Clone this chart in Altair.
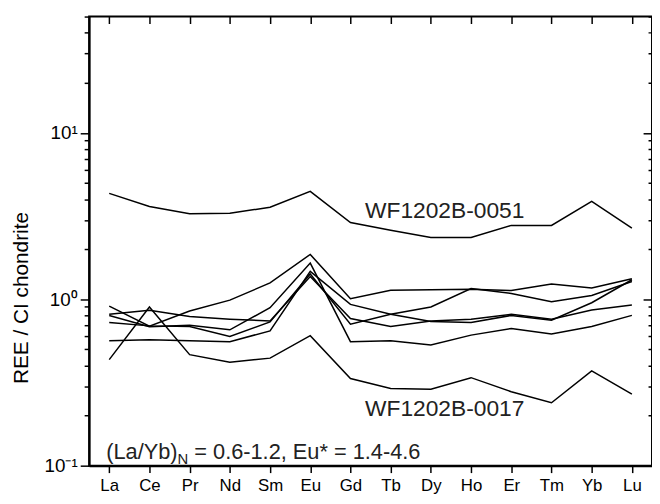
import altair as alt
import pandas as pd

# ---------------- data ----------------
elements = ["La", "Ce", "Pr", "Nd", "Sm", "Eu", "Gd", "Tb", "Dy", "Ho", "Er", "Tm", "Yb", "Lu"]

wf1202b_0051 = [4.33, 3.61, 3.27, 3.29, 3.57, 4.45, 2.89, 2.60, 2.35, 2.35, 2.78, 2.78, 3.87, 2.68]
wf1202b_0017 = [0.434, 0.898, 0.465, 0.419, 0.443, 0.604, 0.334, 0.291, 0.288, 0.338, 0.278, 0.239, 0.371, 0.269]
sample_a = [0.910, 0.690, 0.850, 0.988, 1.254, 1.86, 1.007, 1.133, 1.14, 1.15, 1.128, 1.236, 1.17, 1.33]
sample_b = [0.798, 0.683, 0.699, 0.655, 0.890, 1.65, 0.556, 0.563, 0.531, 0.609, 0.668, 0.618, 0.686, 0.80]
sample_c = [0.725, 0.692, 0.686, 0.598, 0.731, 1.42, 0.708, 0.812, 0.898, 1.16, 1.083, 0.966, 1.053, 1.28]
sample_d = [0.563, 0.571, 0.563, 0.556, 0.646, 1.47, 0.931, 0.812, 0.735, 0.725, 0.80, 0.748, 0.953, 1.31]
sample_f = [0.812, 0.858, 0.787, 0.759, 0.741, 1.37, 0.766, 0.686, 0.741, 0.759, 0.812, 0.759, 0.862, 0.923]

sample_names = ["WF1202B-0051", "WF1202B-0017", "S-A", "S-B", "S-C", "S-D", "S-F"]
sample_values = [wf1202b_0051, wf1202b_0017, sample_a, sample_b, sample_c, sample_d, sample_f]

y_tick_values = [round(k * 0.1, 1) for k in range(1, 10)] + list(range(1, 10)) + [10, 20, 30, 40, 50]
y_major_labels = {0.1: "10⁻¹", 1: "10⁰", 10: "10¹"}

label_top = "WF1202B-0051"
label_bottom = "WF1202B-0017"
note_main = "(La/Yb)"
note_sub = "N"
note_rest = "= 0.6-1.2, Eu* = 1.4-4.6"

rows = []
for name, vals in zip(sample_names, sample_values):
    for i, (el, v) in enumerate(zip(elements, vals)):
        rows.append({"sample": name, "elem": el, "order": i, "value": v})
df = pd.DataFrame(rows)

ann_df = pd.DataFrame([
    {"elem": "Dy", "value": 3.1, "text": label_top},
    {"elem": "Dy", "value": 0.198, "text": label_bottom},
])
note_df = pd.DataFrame([{"elem": "La", "value": 0.109}])

# ---------------- styling ----------------
FONT = "Liberation Sans"
major_test = "datum.value == 0.1 || datum.value == 1 || datum.value == 10"
label_expr = " : ".join(
    f"datum.value == {k} ? '{v}'" for k, v in y_major_labels.items()
) + " : ''"

x_scale = alt.Scale(type="point", domain=elements, padding=0.5)
y_scale = alt.Scale(type="log", domain=[0.1, 50], nice=False)

x_bottom = alt.Axis(
    orient="bottom", title=None, labelAngle=0, labelFont=FONT, labelFontSize=17,
    labelColor="black", labelPadding=5, tickSize=7, tickWidth=1.5, tickColor="black",
    domain=True, domainColor="black", domainWidth=2, grid=False,
)
y_left = alt.Axis(
    orient="left", values=y_tick_values, labelExpr=label_expr, labelFont=FONT,
    labelFontSize=19, labelColor="black", labelPadding=3,
    tickSize={"condition": {"test": major_test, "value": 9}, "value": 5},
    tickWidth=1.5, tickColor="black", domain=True, domainColor="black",
    domainWidth=2, grid=False,
    title="REE / CI chondrite", titleFont=FONT, titleFontSize=21,
    titleFontWeight="normal", titleColor="black", titleX=-68, titleY=284,
    titleAngle=-90, titleAlign="center", titleBaseline="middle",
)
x_top = alt.Axis(
    orient="top", title=None, labels=False, domain=False, offset=-7, tickSize=7,
    tickWidth=1.5, tickColor="black", grid=False,
)
y_right = alt.Axis(
    orient="right", title=None, labels=False, domain=False, offset=-9, tickSize=9,
    values=y_tick_values, tickWidth=1.5, tickColor="black", grid=False,
    tickDash={"condition": {"test": major_test, "value": [9, 0]}, "value": [0, 5, 4, 20]},
)

lines = alt.Chart(df).mark_line(color="black", strokeWidth=1.5).encode(
    x=alt.X("elem:N", scale=x_scale, axis=x_bottom, sort=elements),
    y=alt.Y("value:Q", scale=y_scale, axis=y_left),
    detail="sample:N",
    order="order:Q",
)

ann = alt.Chart(ann_df).mark_text(
    font=FONT, fontSize=23, color="#222222", align="center", baseline="alphabetic", dx=14,
).encode(
    x=alt.X("elem:N", scale=x_scale, axis=x_top, sort=elements),
    y=alt.Y("value:Q", scale=y_scale, axis=y_right),
    text="text:N",
)

base_note = alt.Chart(note_df).encode(
    x=alt.X("elem:N", scale=x_scale, axis=None, sort=elements),
    y=alt.Y("value:Q", scale=y_scale, axis=None),
)
n1 = base_note.mark_text(font=FONT, fontSize=22, color="#222222", align="left",
                         baseline="alphabetic", dx=-3, text=note_main)
n2 = base_note.mark_text(font=FONT, fontSize=15, color="#222222", align="left",
                         baseline="alphabetic", dx=69, dy=5, text=note_sub)
n3 = base_note.mark_text(font=FONT, fontSize=22, color="#222222", align="left",
                         baseline="alphabetic", dx=86, text=note_rest)

chart = alt.layer(lines, ann, n1, n2, n3).resolve_axis(
    x="independent", y="independent"
).properties(
    width=569, height=454,
    autosize=alt.AutoSizeParams(type="none"),
    padding={"left": 82, "top": 6, "right": 0, "bottom": 28},
).configure_view(stroke="black", strokeWidth=2)

chart.save("out.html", embed_options={"renderer": "svg", "actions": False})
